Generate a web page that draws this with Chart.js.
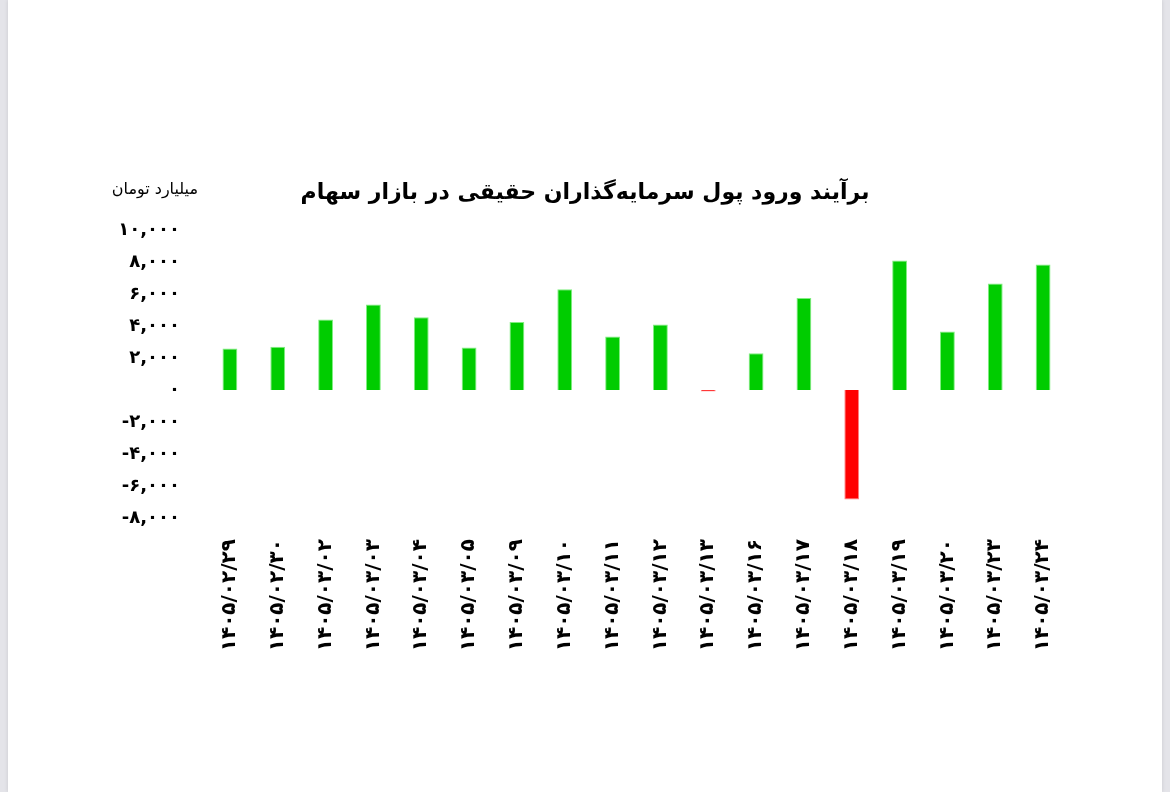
<!DOCTYPE html>
<html lang="fa">
<head>
<meta charset="utf-8">
<script src="https://cdn.jsdelivr.net/npm/chart.js@4.4.1/dist/chart.umd.min.js"></script>
<style>
  html, body { margin: 0; padding: 0; background: #e4e4e9; }
  .page {
    position: absolute; left: 8px; top: 0;
    width: 1154px; height: 792px; background: #fff;
    box-shadow: 0 0 4px rgba(0,0,0,.12);
  }
  canvas { display: block; }
</style>
</head>
<body>
<div class="page">
  <canvas id="main-chart" width="1154" height="792"></canvas>
</div>
<script>
// ---- Data ----
const dates = [
  '۱۴۰۵/۰۲/۲۹', '۱۴۰۵/۰۲/۳۰', '۱۴۰۵/۰۳/۰۲', '۱۴۰۵/۰۳/۰۳', '۱۴۰۵/۰۳/۰۴', '۱۴۰۵/۰۳/۰۵',
  '۱۴۰۵/۰۳/۰۹', '۱۴۰۵/۰۳/۱۰', '۱۴۰۵/۰۳/۱۱', '۱۴۰۵/۰۳/۱۲', '۱۴۰۵/۰۳/۱۳', '۱۴۰۵/۰۳/۱۶',
  '۱۴۰۵/۰۳/۱۷', '۱۴۰۵/۰۳/۱۸', '۱۴۰۵/۰۳/۱۹', '۱۴۰۵/۰۳/۲۰', '۱۴۰۵/۰۳/۲۳', '۱۴۰۵/۰۳/۲۴'
];
const netInflow = [
  2600, 2700, 4400, 5350, 4550, 2650,
  4250, 6300, 3350, 4100, -100, 2300,
  5750, -6850, 8100, 3650, 6650, 7850
];
const yTicks = [10000, 8000, 6000, 4000, 2000, 0, -2000, -4000, -6000, -8000];

const TITLE = 'برآیند ورود پول سرمایه‌گذاران حقیقی در بازار سهام';
const UNIT  = 'میلیارد تومان';

const FA_DIGITS = '۰۱۲۳۴۵۶۷۸۹';
const toFa = v => Number(v).toLocaleString('en-US').replace(/\d/g, d => FA_DIGITS[d]);

const FONT = "'DejaVu Sans', sans-serif";

// ---- Render chart ----
const canvas = document.getElementById('main-chart');

new Chart(canvas, {
  type: 'bar',
  data: {
    labels: dates,
    datasets: [{
      data: netInflow,
      backgroundColor: netInflow.map(v => v < 0 ? '#ff0000' : '#00cc00'),
      borderColor: netInflow.map(v => v < 0 ? '#ff8080' : '#80ee80'),
      borderWidth: 1,
      barPercentage: 0.62,
      categoryPercentage: 0.5,
    }]
  },
  options: {
    responsive: false,
    animation: false,
    layout: { padding: { top: 230, right: 95, bottom: 0, left: 0 } },
    plugins: {
      legend: { display: false },
      title: { display: false },
      tooltip: { enabled: false }
    },
    scales: {
      x: {
        grid: { display: false },
        border: { display: false },
        ticks: {
          color: '#000',
          font: { family: FONT, size: 20, weight: 'bold' },
          minRotation: 90,
          maxRotation: 90,
          autoSkip: false,
          padding: 13,
        },
        afterFit(scale) { scale.height = 274; }
      },
      y: {
        min: -8000, max: 10000,
        grid: { display: false },
        border: { display: false },
        afterBuildTicks(scale) { scale.ticks = yTicks.map(v => ({ value: v })); },
        ticks: {
          color: '#000',
          font: { family: FONT, size: 18, weight: 'bold' },
          padding: 18,
          callback: v => toFa(v)
        },
        afterFit(scale) { scale.width = 198; }
      }
    }
  },
  plugins: [{
    id: 'headings',
    afterDraw(chart) {
      const { ctx, chartArea: { top, left } } = chart;
      ctx.save();
      ctx.fillStyle = '#000';
      ctx.textBaseline = 'middle';
      ctx.direction = 'rtl';
      ctx.font = "bold 22px " + FONT;
      ctx.textAlign = 'center';
      ctx.fillText(TITLE, chart.width / 2, top - 37);
      ctx.font = "16px " + FONT;
      ctx.textAlign = 'right';
      ctx.fillText(UNIT, left - 8, top - 40);
      ctx.restore();
    }
  }]
});
</script>
</body>
</html>
